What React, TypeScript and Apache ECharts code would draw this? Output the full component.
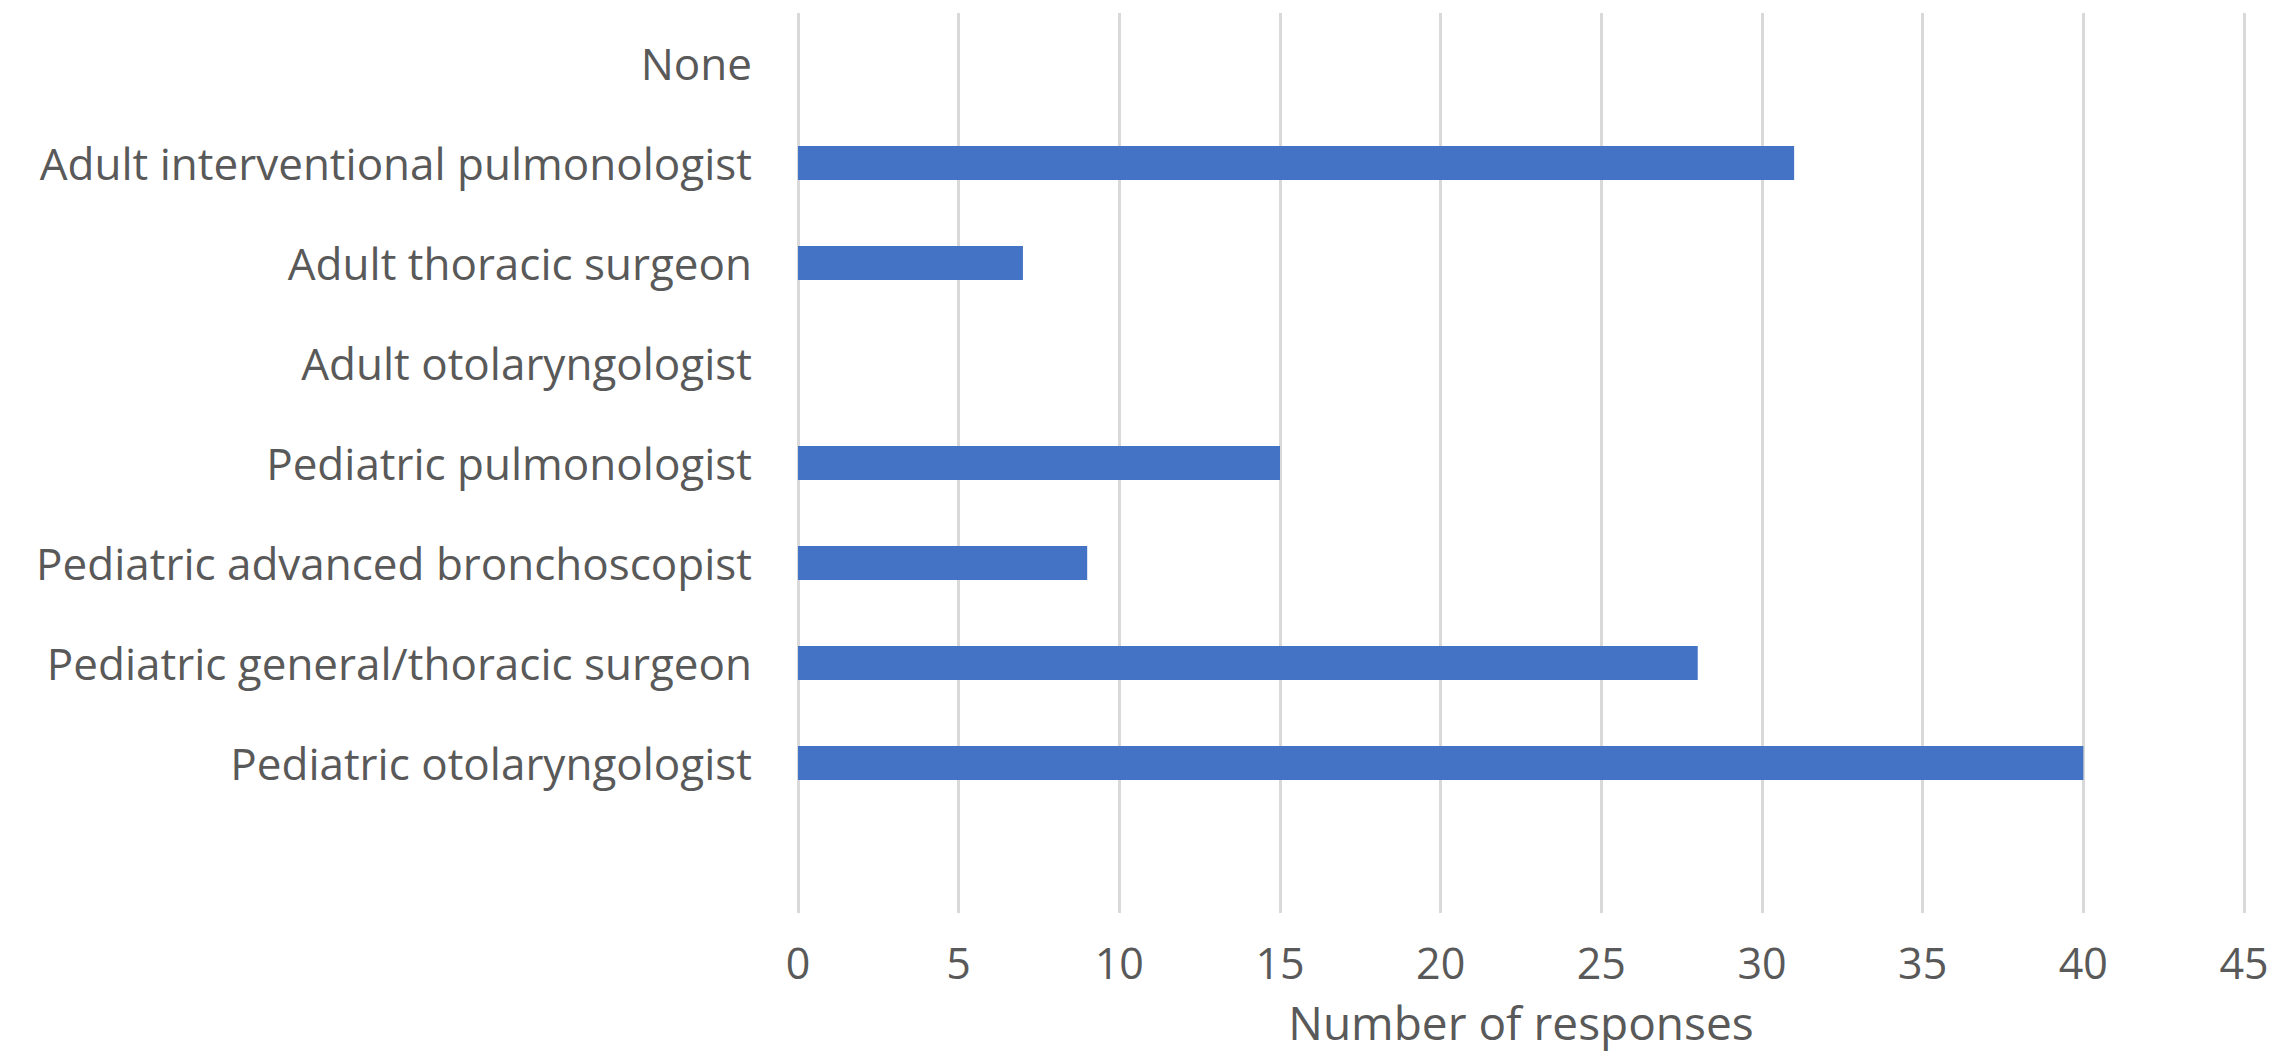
import React, { useEffect, useRef } from "react";
import * as echarts from "echarts";

const categories: string[] = [
  "None",
  "Adult interventional pulmonologist",
  "Adult thoracic surgeon",
  "Adult otolaryngologist",
  "Pediatric pulmonologist",
  "Pediatric advanced bronchoscopist",
  "Pediatric general/thoracic surgeon",
  "Pediatric otolaryngologist",
  "",
];

const responses: (number | null)[] = [0, 31, 7, 0, 15, 9, 28, 40, null];

const xMin = 0;
const xMax = 45;
const xInterval = 5;
const xAxisTitle = "Number of responses";

const TEXT_COLOR = "#595959";
const GRID_COLOR = "#d9d9d9";
const BAR_COLOR = "#4472c4";
const FONT = "'Open Sans', 'Noto Sans', sans-serif";

export default function App() {
  const ref = useRef<HTMLDivElement>(null);

  useEffect(() => {
    if (!ref.current) return;
    const chart = echarts.init(ref.current, undefined, { renderer: "svg" });
    chart.setOption({
      animation: false,
      backgroundColor: "#ffffff",
      textStyle: { fontFamily: FONT },
      grid: { left: 798, right: 36, top: 13, bottom: 145, containLabel: false },
      xAxis: {
        type: "value",
        min: xMin,
        max: xMax,
        interval: xInterval,
        axisLine: { show: false },
        axisTick: { show: false },
        splitLine: { show: true, lineStyle: { color: GRID_COLOR, width: 3 } },
        axisLabel: {
          color: TEXT_COLOR,
          fontSize: 43,
          fontFamily: FONT,
          margin: 28,
        },
        name: xAxisTitle,
        nameLocation: "middle",
        nameGap: 86,
        nameTextStyle: { color: TEXT_COLOR, fontSize: 46, fontFamily: FONT },
      },
      yAxis: {
        type: "category",
        data: categories,
        inverse: true,
        axisLine: { show: false },
        axisTick: { show: false },
        splitLine: { show: false },
        axisLabel: {
          color: TEXT_COLOR,
          fontSize: 44,
          fontFamily: FONT,
          margin: 46,
          interval: 0,
        },
      },
      series: [
        {
          type: "bar",
          data: responses,
          barWidth: 34,
          itemStyle: { color: BAR_COLOR },
        },
      ],
    });
    return () => chart.dispose();
  }, []);

  return (
    <div
      ref={ref}
      style={{ position: "fixed", left: 0, top: 0, width: 2280, height: 1058, background: "#fff" }}
    />
  );
}
